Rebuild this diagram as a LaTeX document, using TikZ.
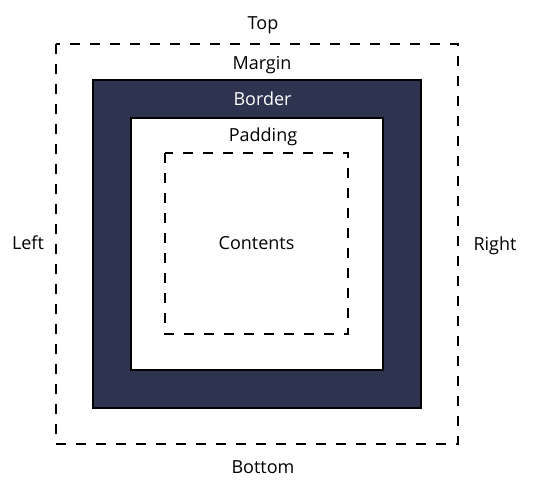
\documentclass[tikz,border=0pt]{standalone}
\usepackage{fontspec}
\setmainfont{Open Sans}
\definecolor{navy}{HTML}{2E3350}
\begin{document}
\begin{tikzpicture}[x=1pt,y=-1pt,
  lbl/.style={anchor=base,inner sep=0pt,font=\fontsize{18}{22}\selectfont},
  dashbox/.style={draw=black,line width=2.6pt,dash pattern=on 10pt off 10pt},
  borderbox/.style={draw=black,line width=2pt,fill=navy},
  padbox/.style={draw=black,line width=2pt,fill=white}]
\useasboundingbox (0,0) rectangle (533,485);
\draw[dashbox] (56,44) rectangle (458,444);
\draw[borderbox] (93,80) rectangle (421,408);
\draw[padbox] (131,118) rectangle (383,370);
\draw[dashbox] (165,153) rectangle (348,334);
\node[lbl] (top) at (263,29) {Top};
\node[lbl] (margin) at (262,69) {Margin};
\node[lbl,text=white] (border) at (262.5,105) {Border};
\node[lbl] (padding) at (263,141) {Padding};
\node[lbl] (contents) at (256.5,249) {Contents};
\node[lbl] (left) at (28,249) {Left};
\node[lbl] (right) at (495,250) {Right};
\node[lbl] (bottom) at (263,473) {Bottom};
\end{tikzpicture}
\end{document}
